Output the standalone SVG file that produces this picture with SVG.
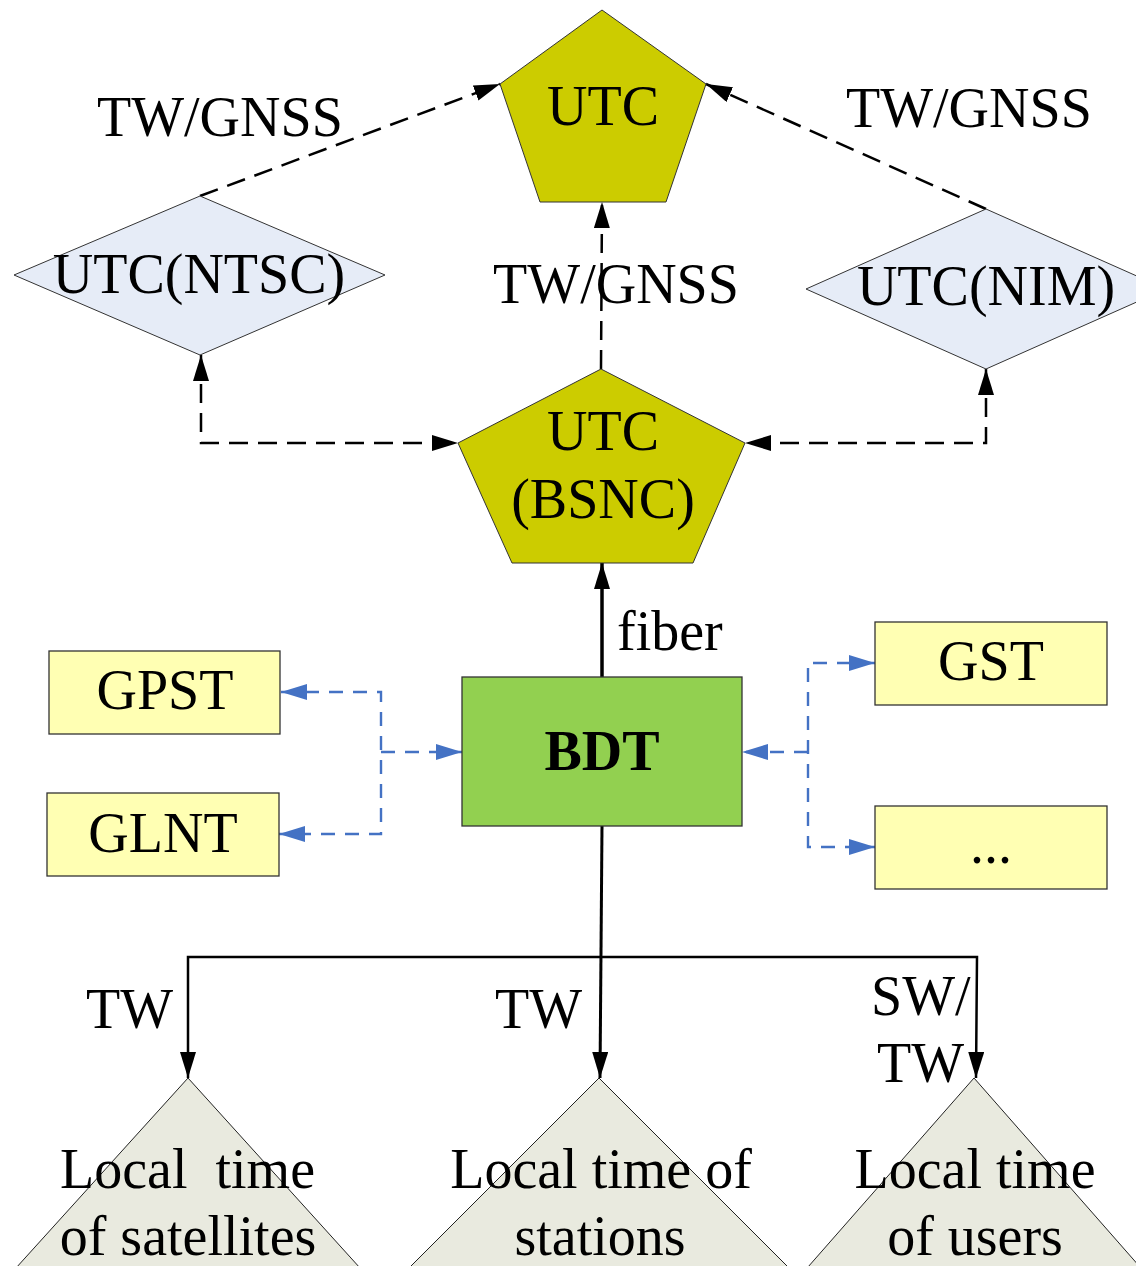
<svg xmlns="http://www.w3.org/2000/svg" width="1136" height="1266" viewBox="0 0 1136 1266">
<style>
text{font-family:"Liberation Serif","Times New Roman",serif;font-size:56px;fill:#000}
.c{text-anchor:middle}
.pent{fill:#CCCC00;stroke:#333;stroke-width:1}
.dia{fill:#E6ECF7;stroke:#333;stroke-width:1}
.box{fill:#FFFFB3;stroke:#333;stroke-width:1.3}
.tri{fill:#E9EADF;stroke:#222;stroke-width:1}
.kd{fill:none;stroke:#000;stroke-width:2.5;stroke-dasharray:19 10}
.bd{fill:none;stroke:#4472C4;stroke-width:2.4;stroke-dasharray:14 10}
.sl{fill:none;stroke:#000;stroke-width:3}
</style>
<defs>
<marker id="ak" viewBox="0 0 26 16" refX="26" refY="8" markerWidth="26" markerHeight="16" markerUnits="userSpaceOnUse" orient="auto-start-reverse"><path d="M0,0 L26,8 L0,16 z" fill="#000"/></marker>
<marker id="ab" viewBox="0 0 26 16" refX="26" refY="8" markerWidth="26" markerHeight="16" markerUnits="userSpaceOnUse" orient="auto-start-reverse"><path d="M0,0 L26,8 L0,16 z" fill="#4472C4"/></marker>
</defs>

<g id="connectors">
<path class="kd" d="M200,196 L500,84" marker-end="url(#ak)"/>
<path class="kd" d="M986,209 L706,84" marker-end="url(#ak)"/>
<path class="kd" d="M601,369 L602,202" marker-end="url(#ak)"/>
<path class="kd" d="M201,355 L201,443 L458,443" marker-start="url(#ak)" marker-end="url(#ak)"/>
<path class="kd" d="M986,369 L986,443 L745,443" marker-start="url(#ak)" marker-end="url(#ak)"/>
<path class="sl" style="stroke-width:3.5" d="M602,677 L602,563" marker-end="url(#ak)"/>
<path class="sl" d="M602,826 L600,1078" marker-end="url(#ak)"/>
<path class="sl" style="stroke-width:2.5" d="M188,1078 L188,957 L977,957 L976,1078" marker-start="url(#ak)" marker-end="url(#ak)"/>
<path class="bd" d="M281,692 L381,692 L381,834 L279,834" marker-start="url(#ab)" marker-end="url(#ab)"/>
<path class="bd" d="M381,752 L462,752" marker-end="url(#ab)"/>
<path class="bd" d="M875,663 L808,663 L808,847 L875,847" marker-start="url(#ab)" marker-end="url(#ab)"/>
<path class="bd" d="M808,752 L742,752" marker-end="url(#ab)"/>
</g>

<g id="utc">
<polygon class="pent" points="602,10 706,84 666,202 540,202 500,84"/>
<text class="c" x="603" y="125">UTC</text>
</g>
<g id="utc-ntsc">
<polygon class="dia" points="14,275 200,196 385,275 200,355"/>
<text class="c" x="199" y="293">UTC(NTSC)</text>
</g>
<g id="utc-nim">
<polygon class="dia" points="806,289 986,209 1166,289 986,369"/>
<text class="c" x="986" y="305">UTC(NIM)</text>
</g>
<g id="utc-bsnc">
<polygon class="pent" points="601,369 745,443 693,563 512,563 458,443"/>
<text class="c" x="603" y="450">UTC</text>
<text class="c" x="603" y="518">(BSNC)</text>
</g>
<g id="bdt">
<rect x="462" y="677" width="280" height="149" fill="#92D050" stroke="#333" stroke-width="1.3"/>
<text class="c" x="602" y="770" font-weight="bold">BDT</text>
</g>
<g id="gpst">
<rect class="box" x="49" y="651" width="231" height="83"/>
<text class="c" x="165" y="709">GPST</text>
</g>
<g id="glnt">
<rect class="box" x="47" y="793" width="232" height="83"/>
<text class="c" x="163" y="852">GLNT</text>
</g>
<g id="gst">
<rect class="box" x="875" y="622" width="232" height="83"/>
<text class="c" x="991" y="680">GST</text>
</g>
<g id="etc">
<rect class="box" x="875" y="806" width="232" height="83"/>
<text class="c" x="991" y="863">...</text>
</g>
<g id="sat">
<polygon class="tri" points="188,1078 389,1300 -13,1300"/>
<text x="60" y="1188" xml:space="preserve">Local  time</text>
<text class="c" x="188" y="1255">of satellites</text>
</g>
<g id="sta">
<polygon class="tri" points="599,1078 821,1300 377,1300"/>
<text class="c" x="601" y="1188">Local time of</text>
<text class="c" x="600" y="1255">stations</text>
</g>
<g id="usr">
<polygon class="tri" points="974,1078 1169,1300 779,1300"/>
<text class="c" x="975" y="1188">Local time</text>
<text class="c" x="975" y="1255">of users</text>
</g>

<g id="labels">
<text x="97" y="136">TW/GNSS</text>
<text x="846" y="127">TW/GNSS</text>
<text class="c" x="616" y="303">TW/GNSS</text>
<text x="617" y="650">fiber</text>
<text x="86" y="1028">TW</text>
<text x="495" y="1028">TW</text>
<text x="871" y="1015">SW/</text>
<text x="877" y="1082">TW</text>
</g>
</svg>
